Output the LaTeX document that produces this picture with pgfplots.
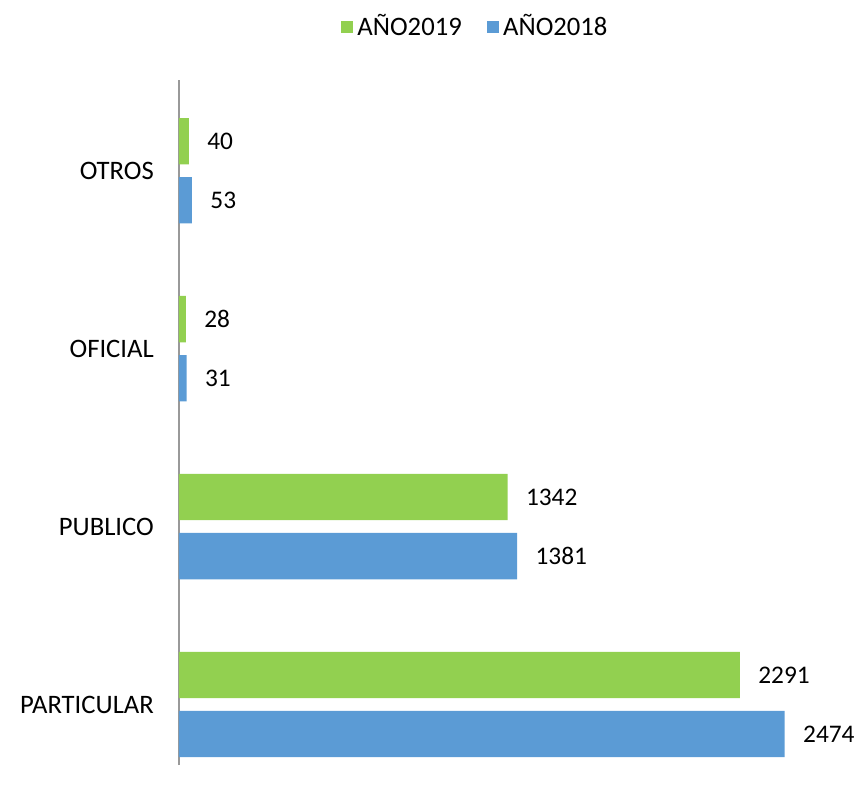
\documentclass[border=0pt]{standalone}
\usepackage{pgfplots}
\pgfplotsset{compat=1.18}
\usepackage{fontspec}
\setmainfont{Carlito}
\definecolor{verde}{HTML}{92D050}
\definecolor{azul}{HTML}{5B9BD5}
\begin{document}
\fontsize{20}{24}\selectfont
\begin{tikzpicture}
  % page frame in pt (861x790 px at 0.75pt/px), axis box at its origin
  \path[use as bounding box] (-134.25pt,-18.75pt) rectangle (511.5pt,573.75pt);
  \begin{axis}[%
    at={(0,0)}, anchor=south west,
    scale only axis,
    width=495.75pt, height=513.75pt,
    xbar, bar width=0.26,
    xmin=0, xmax=2700,
    ymin=-0.34, ymax=3.51,
    axis x line=none,
    axis y line*=left,
    y axis line style={draw=gray!80, line width=0.8pt},
    ytick={0,1,2,3},
    yticklabels={PARTICULAR,PUBLICO,OFICIAL,OTROS},
    major tick length=0pt,
    yticklabel style={anchor=east, xshift=-12pt, font=\fontsize{20}{24}\selectfont},
    /pgf/number format/.cd, 1000 sep={}, assume math mode=true, /pgfplots/.cd,
    nodes near coords,
    nodes near coords style={anchor=west, xshift=7pt, font=\fontsize{19}{23}\selectfont},
    clip=false,
    legend columns=2,
    legend style={at={(0.45,1.077)}, anchor=center, draw=none, fill=none,
      /tikz/every even column/.append style={column sep=16pt},
      font=\fontsize{20}{24}\selectfont},
    legend image code/.code={\fill[#1] (0pt,-4.5pt) rectangle (9pt,4.5pt);},
    legend style={nodes={inner xsep=3pt}},
  ]
  \addplot[fill=verde, draw=none, bar shift=0.166] coordinates {
    (2291,0) (1342,1) (28,2) (40,3)
  };
  \addlegendentry{AÑO2019}
  \addplot[fill=azul, draw=none, bar shift=-0.166] coordinates {
    (2474,0) (1381,1) (31,2) (53,3)
  };
  \addlegendentry{AÑO2018}
  \end{axis}
\end{tikzpicture}
\end{document}
